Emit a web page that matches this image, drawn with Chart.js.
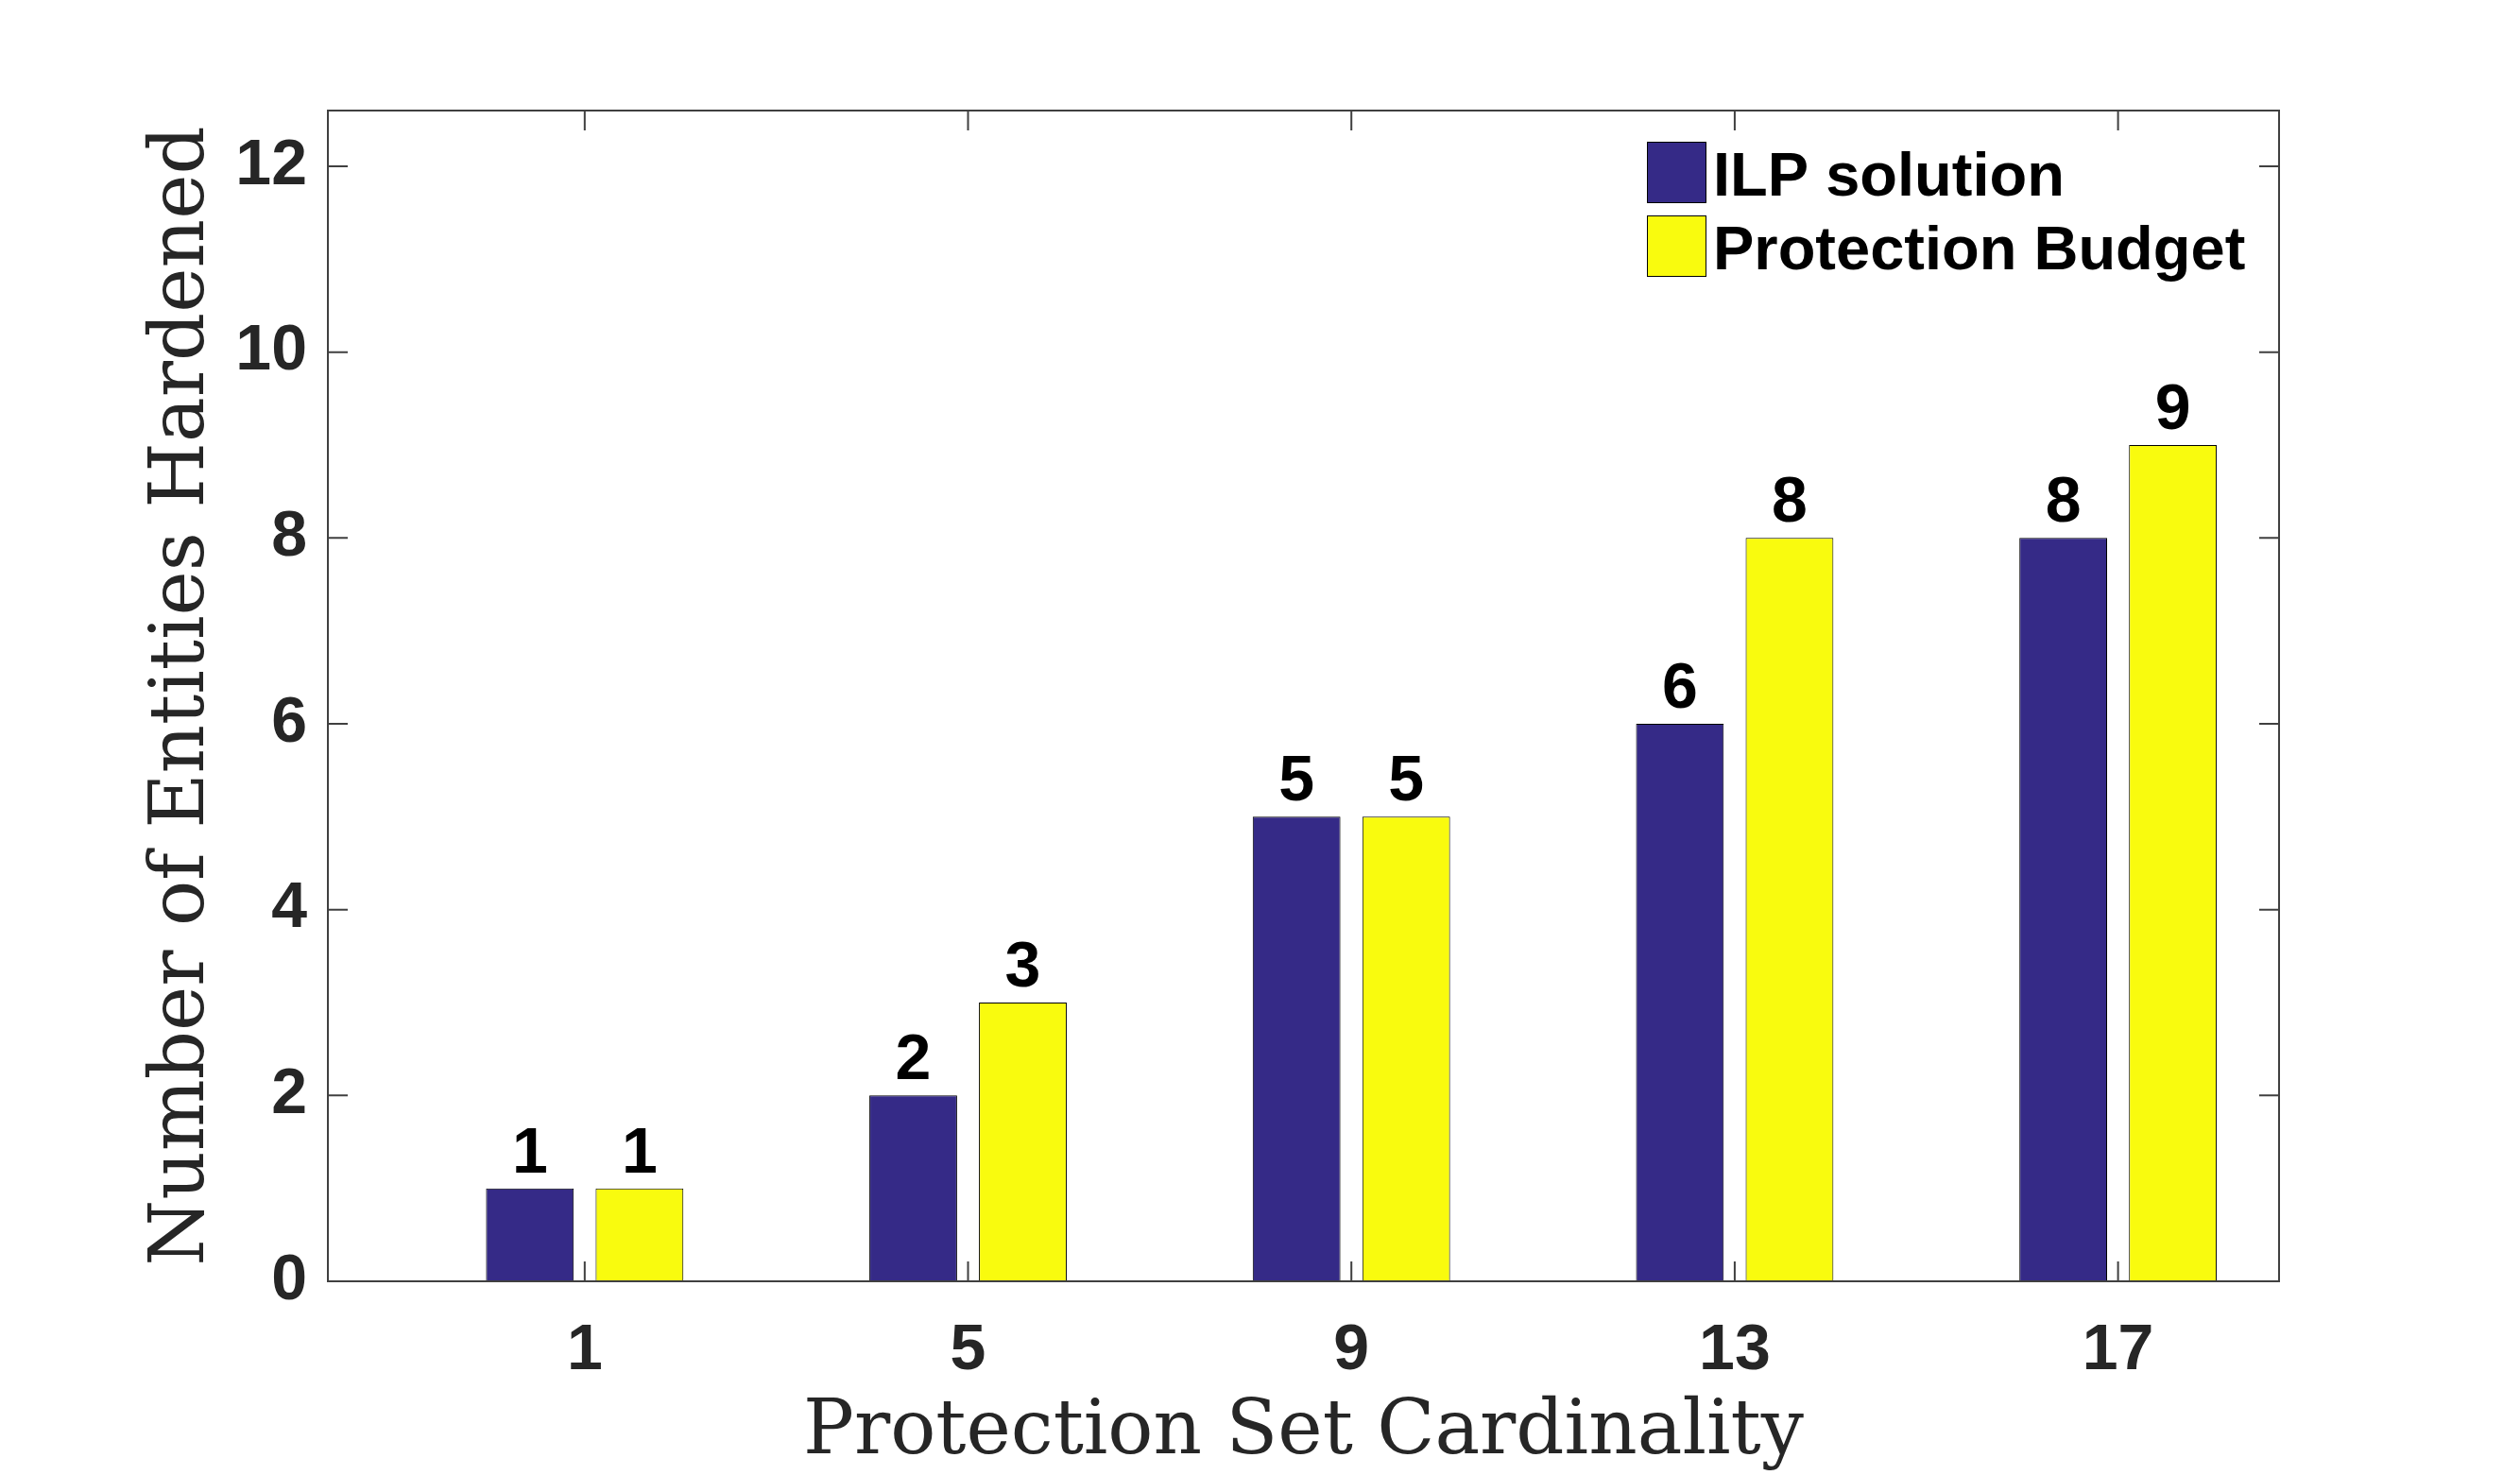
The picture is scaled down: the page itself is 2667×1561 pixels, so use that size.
<!DOCTYPE html>
<html>
<head>
<meta charset="utf-8">
<script src="https://cdn.jsdelivr.net/npm/chart.js@4"></script>
<style>
    body { margin: 0; background: #fff; }
    canvas { display: block; }
</style>
</head>
<body>
<canvas id="hardenedChart" width="2667" height="1561"></canvas>
<script>
// Chart data
const categories = [1, 5, 9, 13, 17];
const ilpValues = [1, 2, 5, 6, 8];
const budgetValues = [1, 3, 5, 8, 9];
const yTicks = [0, 2, 4, 6, 8, 10, 12];
const seriesLabels = ['ILP solution', 'Protection Budget'];

const axisColor = '#404040';
const textColor = '#262626';
const sansBold = { family: "'Liberation Sans', Arial, sans-serif", size: 68, weight: 'bold' };

// box around the axes with inward ticks on all four sides
const axesBox = {
    id: 'axesBox',
    afterDatasetsDraw(chart) {
        const ctx = chart.ctx;
        const area = chart.chartArea;
        const x = chart.scales.x;
        const y = chart.scales.y;
        const tick = 21;
        ctx.save();
        ctx.strokeStyle = axisColor;
        ctx.lineWidth = 2;
        ctx.strokeRect(area.left, area.top, area.right - area.left, area.bottom - area.top);
        ctx.beginPath();
        categories.forEach(function(c) {
            const px = x.getPixelForValue(c);
            ctx.moveTo(px, area.bottom); ctx.lineTo(px, area.bottom - tick);
            ctx.moveTo(px, area.top); ctx.lineTo(px, area.top + tick);
        });
        yTicks.forEach(function(v) {
            const py = y.getPixelForValue(v);
            ctx.moveTo(area.left, py); ctx.lineTo(area.left + tick, py);
            ctx.moveTo(area.right, py); ctx.lineTo(area.right - tick, py);
        });
        ctx.stroke();
        ctx.restore();
    }
};

// value labels above the bars
const barLabels = {
    id: 'barLabels',
    afterDatasetsDraw(chart) {
        const ctx = chart.ctx;
        ctx.save();
        ctx.fillStyle = '#000';
        ctx.font = 'bold 68px "Liberation Sans", Arial, sans-serif';
        ctx.textAlign = 'center';
        ctx.textBaseline = 'alphabetic';
        chart.data.datasets.forEach(function(ds, i) {
            chart.getDatasetMeta(i).data.forEach(function(bar, j) {
                ctx.fillText(String(ds.data[j].y), bar.x, bar.y - 17);
            });
        });
        ctx.restore();
    }
};

// legend in the top right corner, MATLAB style
const boxLegend = {
    id: 'boxLegend',
    afterDraw(chart) {
        const ctx = chart.ctx;
        const rows = [182, 260];
        ctx.save();
        ctx.font = 'bold 65px "Liberation Sans", Arial, sans-serif';
        ctx.textBaseline = 'middle';
        ctx.textAlign = 'left';
        chart.data.datasets.forEach(function(ds, i) {
            const cy = rows[i];
            ctx.fillStyle = ds.backgroundColor;
            ctx.fillRect(1743, cy - 32, 62, 64);
            ctx.strokeStyle = '#000';
            ctx.lineWidth = 1;
            ctx.strokeRect(1743.5, cy - 31.5, 62, 64);
            ctx.fillStyle = '#000';
            ctx.fillText(ds.label, 1813, cy + 7);
        });
        ctx.restore();
    }
};

const ctx = document.getElementById('hardenedChart').getContext('2d');
new Chart(ctx, {
    type: 'bar',
    data: {
        datasets: [{
            label: seriesLabels[0],
            data: categories.map(function(c, i) { return { x: c, y: ilpValues[i] }; }),
            backgroundColor: '#352A87',
            borderColor: '#000',
            borderWidth: 1,
            borderSkipped: false
        }, {
            label: seriesLabels[1],
            data: categories.map(function(c, i) { return { x: c, y: budgetValues[i] }; }),
            backgroundColor: '#F9FB0E',
            borderColor: '#000',
            borderWidth: 1,
            borderSkipped: false
        }]
    },
    options: {
        responsive: false,
        devicePixelRatio: 1,
        animation: false,
        categoryPercentage: 0.572,
        barPercentage: 0.8,
        layout: {
            padding: { top: 117, right: 255, left: 0, bottom: 0 }
        },
        plugins: {
            legend: { display: false },
            tooltip: { enabled: false }
        },
        scales: {
            x: {
                type: 'linear',
                offset: false,
                min: -1.68,
                max: 18.68,
                afterBuildTicks: function(axis) {
                    axis.ticks = categories.map(function(v) { return { value: v }; });
                },
                afterFit: function(scale) {
                    scale.height = 205;
                },
                grid: { display: false, drawTicks: false, offset: false },
                border: { display: false },
                ticks: {
                    padding: 33,
                    color: textColor,
                    font: sansBold,
                    autoSkip: false,
                    maxRotation: 0
                },
                title: {
                    display: true,
                    text: 'Protection Set Cardinality',
                    color: textColor,
                    font: { family: "'DejaVu Serif', serif", size: 80, lineHeight: 1.1 },
                    padding: { top: 0, bottom: 0 }
                }
            },
            y: {
                min: 0,
                max: 12.6,
                afterBuildTicks: function(axis) {
                    axis.ticks = yTicks.map(function(v) { return { value: v }; });
                },
                afterFit: function(scale) {
                    scale.width = 347;
                },
                grid: { display: false, drawTicks: false },
                border: { display: false },
                ticks: {
                    padding: 22,
                    color: textColor,
                    font: sansBold
                },
                title: {
                    display: true,
                    text: 'Number of Entities Hardened',
                    color: textColor,
                    font: { family: "'DejaVu Serif', serif", size: 80, lineHeight: 1.2 },
                    padding: { top: 146, bottom: 0 }
                }
            }
        }
    },
    plugins: [axesBox, barLabels, boxLegend]
});
</script>
</body>
</html>
